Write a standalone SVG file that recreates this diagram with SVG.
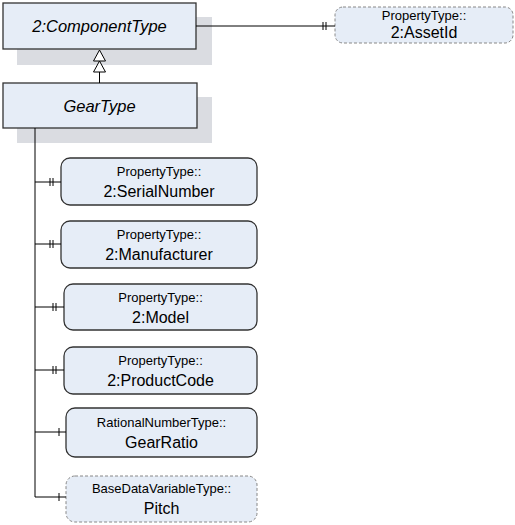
<svg xmlns="http://www.w3.org/2000/svg" width="515" height="525" viewBox="0 0 515 525">
<style>
.bg{fill:#ffffff}
.shadow{fill:#dadce1}
.box{fill:#e6edf7;stroke:#333;stroke-width:1.3}
.dbox{fill:#e6edf7;stroke:#888;stroke-width:1;stroke-dasharray:3,2}
.t1{font-family:"Liberation Sans",Arial,sans-serif;font-size:16.5px;font-style:italic;fill:#000;text-anchor:middle}
.s{font-family:"Liberation Sans",Arial,sans-serif;font-size:13px;fill:#000;text-anchor:middle}
.b{font-family:"Liberation Sans",Arial,sans-serif;font-size:16px;fill:#000;text-anchor:middle}
.ln{stroke:#000;stroke-width:1;fill:none}
.mk{stroke:#000;stroke-width:1}
.tri{fill:#fff;stroke:#000;stroke-width:1}
</style>
<rect class="bg" x="0" y="0" width="515" height="525"/>
<g id="ComponentType">
  <rect class="shadow" x="17" y="17" width="195" height="48"/>
  <rect class="box" x="3" y="3" width="193" height="46"/>
  <text class="t1" x="99.5" y="32">2:ComponentType</text>
</g>
<g id="GearType">
  <rect class="shadow" x="17" y="97" width="195" height="46"/>
  <rect class="box" x="3" y="83" width="194" height="45"/>
  <text class="t1" x="99.5" y="112">GearType</text>
</g>
<g id="AssetId">
  <rect class="dbox" x="335" y="7" width="178" height="36" rx="8"/>
  <text class="s" x="424" y="20">PropertyType::</text>
  <text class="b" x="424" y="38">2:AssetId</text>
</g>
<g id="SerialNumber">
  <rect class="box" x="61" y="158" width="196" height="47" rx="9"/>
  <text class="s" x="159" y="176">PropertyType::</text>
  <text class="b" x="159" y="197">2:SerialNumber</text>
</g>
<g id="Manufacturer">
  <rect class="box" x="61" y="221" width="196" height="47" rx="9"/>
  <text class="s" x="159" y="239">PropertyType::</text>
  <text class="b" x="159" y="260">2:Manufacturer</text>
</g>
<g id="Model">
  <rect class="box" x="64" y="284" width="193" height="46" rx="9"/>
  <text class="s" x="160.5" y="302">PropertyType::</text>
  <text class="b" x="160.5" y="323">2:Model</text>
</g>
<g id="ProductCode">
  <rect class="box" x="64" y="347" width="193" height="47" rx="9"/>
  <text class="s" x="160.5" y="365">PropertyType::</text>
  <text class="b" x="160.5" y="386">2:ProductCode</text>
</g>
<g id="GearRatio">
  <rect class="box" x="66" y="408" width="191" height="49" rx="9"/>
  <text class="s" x="161.5" y="427">RationalNumberType::</text>
  <text class="b" x="161.5" y="448">GearRatio</text>
</g>
<g id="Pitch">
  <rect class="dbox" x="66" y="476" width="191" height="46" rx="9"/>
  <text class="s" x="161.5" y="493">BaseDataVariableType::</text>
  <text class="b" x="161.5" y="514">Pitch</text>
</g>
<g id="connectors">
  <line class="ln" x1="196" y1="26" x2="250" y2="26" stroke="#777"/>
  <line class="ln" x1="250" y1="26" x2="335" y2="26"/>
  <line class="mk" x1="323" y1="22" x2="323" y2="30"/>
  <line class="mk" x1="326" y1="22" x2="326" y2="30"/>
  <line class="ln" x1="99.5" y1="72" x2="99.5" y2="83"/>
  <polygon class="tri" points="99.5,50 93.5,61 105.5,61"/>
  <polygon class="tri" points="99.5,61 93.5,72 105.5,72"/>
  <line class="ln" x1="35" y1="128" x2="35" y2="497" stroke-width="1.5"/>
  <line class="ln" x1="35" y1="182" x2="61" y2="182"/>
  <line class="mk" x1="50" y1="178" x2="50" y2="186"/>
  <line class="mk" x1="53" y1="178" x2="53" y2="186"/>
  <line class="ln" x1="35" y1="244" x2="61" y2="244"/>
  <line class="mk" x1="50" y1="240" x2="50" y2="248"/>
  <line class="mk" x1="53" y1="240" x2="53" y2="248"/>
  <line class="ln" x1="35" y1="307" x2="64" y2="307"/>
  <line class="mk" x1="53" y1="303" x2="53" y2="311"/>
  <line class="mk" x1="56" y1="303" x2="56" y2="311"/>
  <line class="ln" x1="35" y1="370" x2="64" y2="370"/>
  <line class="mk" x1="53" y1="366" x2="53" y2="374"/>
  <line class="mk" x1="56" y1="366" x2="56" y2="374"/>
  <line class="ln" x1="35" y1="432" x2="66" y2="432"/>
  <line class="mk" x1="59" y1="428" x2="59" y2="436"/>
  <line class="ln" x1="35" y1="497" x2="66" y2="497"/>
  <line class="mk" x1="59" y1="493" x2="59" y2="501"/>
</g>
</svg>
